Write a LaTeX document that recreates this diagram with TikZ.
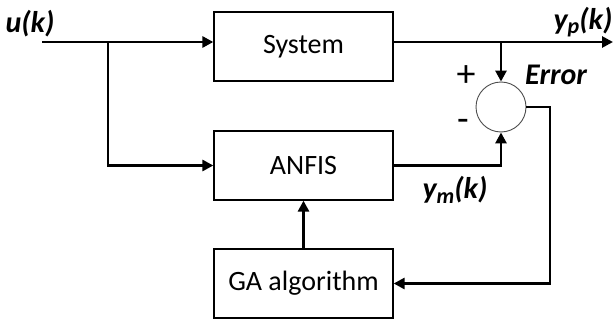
\documentclass[tikz,border=0pt]{standalone}
\usepackage{fontspec}
\setmainfont{Carlito}
\usetikzlibrary{arrows.meta}
\newcommand{\mysub}[1]{\raisebox{-0.3ex}{\fontsize{22}{24}\selectfont #1}}
\begin{document}
\begin{tikzpicture}[x=1pt,y=-1pt,
  blk/.style={draw,line width=1.3pt,minimum width=179pt,minimum height=69pt,inner sep=0pt,font=\fontsize{28}{30}\selectfont},
  sumc/.style={draw=black!70,line width=0.9pt,circle,minimum size=50pt,inner sep=0pt},
  conn/.style={line width=2.8pt,-{Triangle[length=11pt,width=11pt]}},
  lbl/.style={font=\fontsize{30}{32}\selectfont\bfseries\itshape,inner sep=0pt}]
\useasboundingbox (0,0) rectangle (614,324);
\node[blk] (sys) at (303.5,46.5) {System};
\node[blk] (anf) at (303.5,165.5) {ANFIS};
\node[blk] (ga) at (303.5,283.5) {GA algorithm};
\node[sumc] (sum) at (501,107) {};
\coordinate (in) at (42,42);
\coordinate (br) at (108,42);
\coordinate (out) at (613,42);
\coordinate (tap) at (501,42);
\coordinate (fb) at (550,107);
\node[lbl,anchor=center] (u) at (30,24) {u(k)};
\node[lbl,anchor=center] (yp) at (583,22) {y\mysub{p}(k)};
\node[lbl,anchor=center] (ym) at (455,190) {y\mysub{m}(k)};
\node[lbl,anchor=center] (err) at (556,75) {Error};
\node[font=\fontsize{38}{40}\selectfont,inner sep=0pt] (plus) at (466,76) {+};
\node[font=\fontsize{38}{40}\selectfont,inner sep=0pt] (minus) at (463,125) {-};
\draw[conn] (in) -- (sys.west |- in);
\draw[conn] (br) |- (anf.west);
\draw[conn] (sys.east |- out) -- (out);
\draw[conn] (tap) -- (sum.north);
\draw[conn] (anf.east) -| (sum.south);
\draw[conn] (sum.east) -| (fb |- ga.east) -- (ga.east);
\draw[conn] (ga.north) -- (anf.south);
\end{tikzpicture}
\end{document}
